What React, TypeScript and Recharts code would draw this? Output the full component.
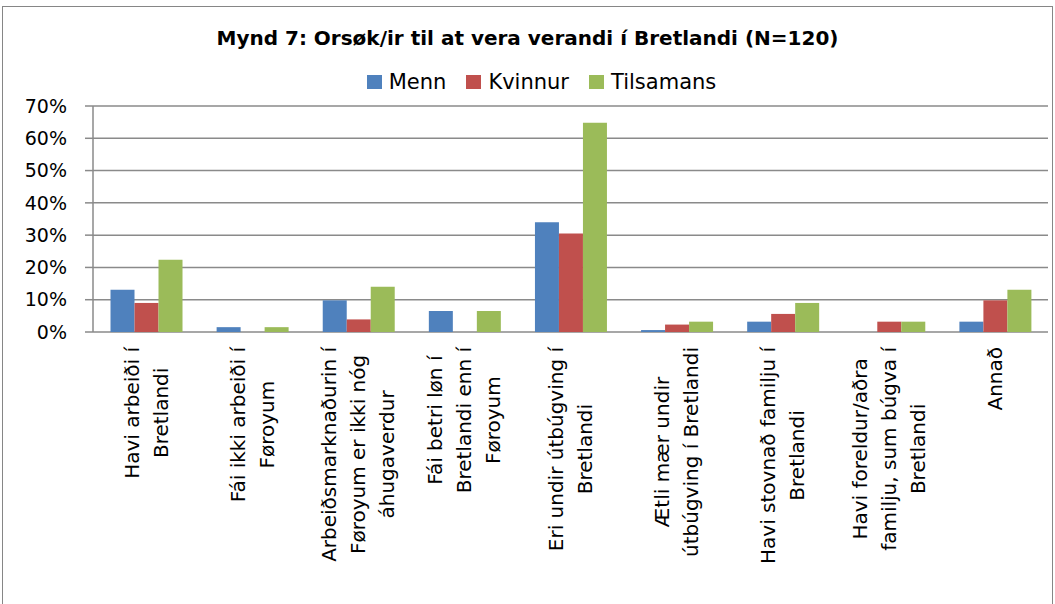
import React from "react";
import { BarChart, Bar, XAxis, YAxis, CartesianGrid } from "recharts";

const categories = [
  "Havi arbeiði í\nBretlandi",
  "Fái ikki arbeiði í\nFøroyum",
  "Arbeiðsmarknaðurin í\nFøroyum er ikki nóg\náhugaverdur",
  "Fái betri løn í\nBretlandi enn í\nFøroyum",
  "Eri undir útbúgving í\nBretlandi",
  "Ætli mær undir\nútbúgving í Bretlandi",
  "Havi stovnað familju í\nBretlandi",
  "Havi foreldur/aðra\nfamilju, sum búgva í\nBretlandi",
  "Annað",
];
const menn = [13.1, 1.5, 9.8, 6.5, 34.0, 0.6, 3.2, 0, 3.2];
const kvinnur = [9.0, 0, 3.9, 0, 30.5, 2.3, 5.6, 3.2, 9.8];
const tilsamans = [22.4, 1.5, 14.0, 6.5, 64.8, 3.2, 9.0, 3.2, 13.1];
const yTicks = [0, 10, 20, 30, 40, 50, 60, 70];
const edgeTicks = [0, 1, 2, 3, 4, 5, 6, 7, 8, 9];

const series = [
  { key: "menn", name: "Menn", color: "#4F81BD" },
  { key: "kvinnur", name: "Kvinnur", color: "#C0504D" },
  { key: "tilsamans", name: "Tilsamans", color: "#9BBB59" },
];

const data = categories.map((name, i) => ({
  name,
  menn: menn[i],
  kvinnur: kvinnur[i],
  tilsamans: tilsamans[i],
}));

const FONT = "DejaVu Sans";
const GRID = "#8a8a8a";

const ctx =
  typeof document !== "undefined"
    ? document.createElement("canvas").getContext("2d")
    : null;

function CategoryTick(props: any) {
  const { x, y, payload } = props;
  const lines: string[] = String(payload.value).split("\n");
  let maxW = 0;
  if (ctx) {
    ctx.font = `20px "${FONT}"`;
    lines.forEach((l) => {
      maxW = Math.max(maxW, ctx.measureText(l).width);
    });
  }
  const lineH = 29;
  const n = lines.length;
  return (
    <g transform={`translate(${x},${y})`}>
      <text
        transform="rotate(-90)"
        fontFamily={FONT}
        fontSize={20}
        fill="#000"
        textAnchor="middle"
      >
        {lines.map((l, i) => (
          <tspan key={i} x={-(15 + maxW / 2)} y={(i - (n - 1) / 2) * lineH + 7}>
            {l}
          </tspan>
        ))}
      </text>
    </g>
  );
}

export default function App() {
  return (
    <div
      style={{
        position: "absolute",
        left: 0,
        top: 0,
        width: 1055,
        height: 604,
        overflow: "hidden",
        background: "#fff",
      }}
    >
      <div
        style={{
          position: "absolute",
          left: 2,
          top: 6,
          width: 1049,
          height: 640,
          border: "1px solid #868686",
        }}
      />
      <div
        style={{
          position: "absolute",
          top: 26,
          left: 0,
          width: 1055,
          textAlign: "center",
          fontFamily: FONT,
          fontWeight: "bold",
          fontSize: 20,
          color: "#000",
        }}
      >
        Mynd 7: Orsøk/ir til at vera verandi í Bretlandi (N=120)
      </div>
      <div
        style={{
          position: "absolute",
          top: 70,
          left: 14,
          width: 1055,
          display: "flex",
          justifyContent: "center",
          fontFamily: FONT,
          fontSize: 21,
          color: "#000",
        }}
      >
        {series.map((s) => (
          <div
            key={s.key}
            style={{ display: "flex", alignItems: "center", margin: "0 10px" }}
          >
            <span
              style={{
                display: "inline-block",
                width: 15,
                height: 14,
                background: s.color,
                marginRight: 7,
              }}
            />
            <span>{s.name}</span>
          </div>
        ))}
      </div>
      <div style={{ position: "absolute", left: 0, top: 0 }}>
        <BarChart
          width={1055}
          height={604}
          data={data}
          margin={{ top: 106, right: 7, left: 0, bottom: 0 }}
          barCategoryGap="16.5%"
          barGap={0}
        >
          <CartesianGrid vertical={false} stroke={GRID} strokeWidth={1.5} />
          <XAxis
            xAxisId="edges"
            type="number"
            domain={[0, 9]}
            ticks={edgeTicks}
            allowDataOverflow
            height={0}
            tickSize={8}
            tickFormatter={() => ""}
            stroke={GRID}
            strokeWidth={1.5}
          />
          <XAxis
            xAxisId="cat"
            dataKey="name"
            interval={0}
            height={272}
            axisLine={false}
            tickLine={false}
            tickSize={0}
            tickMargin={0}
            tick={<CategoryTick />}
          />
          <YAxis
            width={93}
            domain={[0, 70]}
            ticks={yTicks}
            tickFormatter={(v) => `${v}%`}
            tickSize={8}
            tickMargin={18}
            stroke={GRID}
            strokeWidth={1.5}
            tick={{ fill: "#000", fontSize: 19, fontFamily: FONT }}
          />
          {series.map((s) => (
            <Bar
              key={s.key}
              xAxisId="cat"
              dataKey={s.key}
              name={s.name}
              fill={s.color}
              isAnimationActive={false}
            />
          ))}
        </BarChart>
      </div>
    </div>
  );
}
